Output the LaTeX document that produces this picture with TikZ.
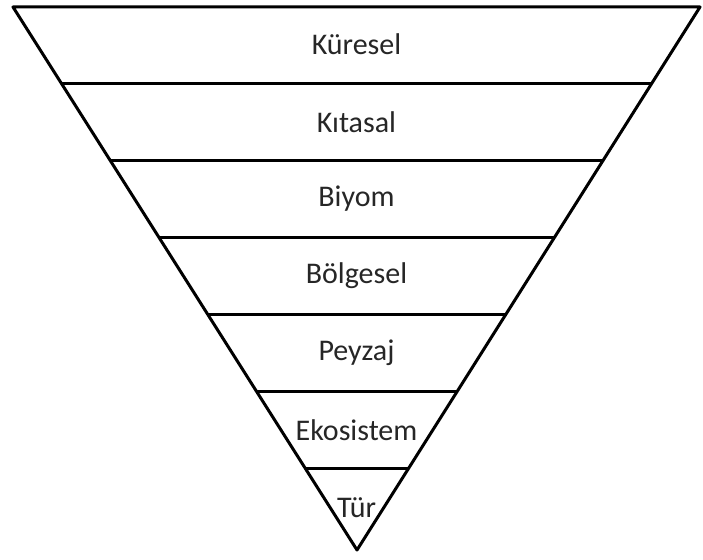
\documentclass[tikz,border=0pt]{standalone}
\usepackage{fontspec}
\setmainfont{Carlito}
\usetikzlibrary{calc}
\definecolor{textgray}{RGB}{38,38,38}
\begin{document}
\begin{tikzpicture}[x=1pt,y=-1pt,
  edge/.style={line width=3pt,line join=round},
  level/.style={font=\fontsize{30}{36}\selectfont,text=textgray}]
\useasboundingbox (0,0) rectangle (703,559);

	\coordinate (tl) at (13,7);
	\coordinate (tr) at (700,7);
	\coordinate (apex) at (357,550);

	\draw[edge] (tl) -- (tr) -- (apex) -- cycle;

	% dividing lines between the levels
	\foreach \i/\f in {1/0.1418,2/0.2836,3/0.4254,4/0.5672,5/0.7090,6/0.8490}{
		\coordinate (l\i) at ($(tl)!\f!(apex)$);
		\coordinate (r\i) at ($(tr)!\f!(apex)$);
		\draw[edge] (l\i) -- (r\i);
	}

	\node[level] (kuresel) at (356.5,44) {Küresel};
	\node[level] (kitasal) at (356.5,122) {Kıtasal};
	\node[level] (biyom) at (356.5,199) {Biyom};
	\node[level] (bolgesel) at (356.5,276) {Bölgesel};
	\node[level] (peyzaj) at (356.5,353) {Peyzaj};
	\node[level] (ekosistem) at (356.5,430) {Ekosistem};
	\node[level] (tur) at (356.5,508) {Tür};

\end{tikzpicture}
\end{document}
